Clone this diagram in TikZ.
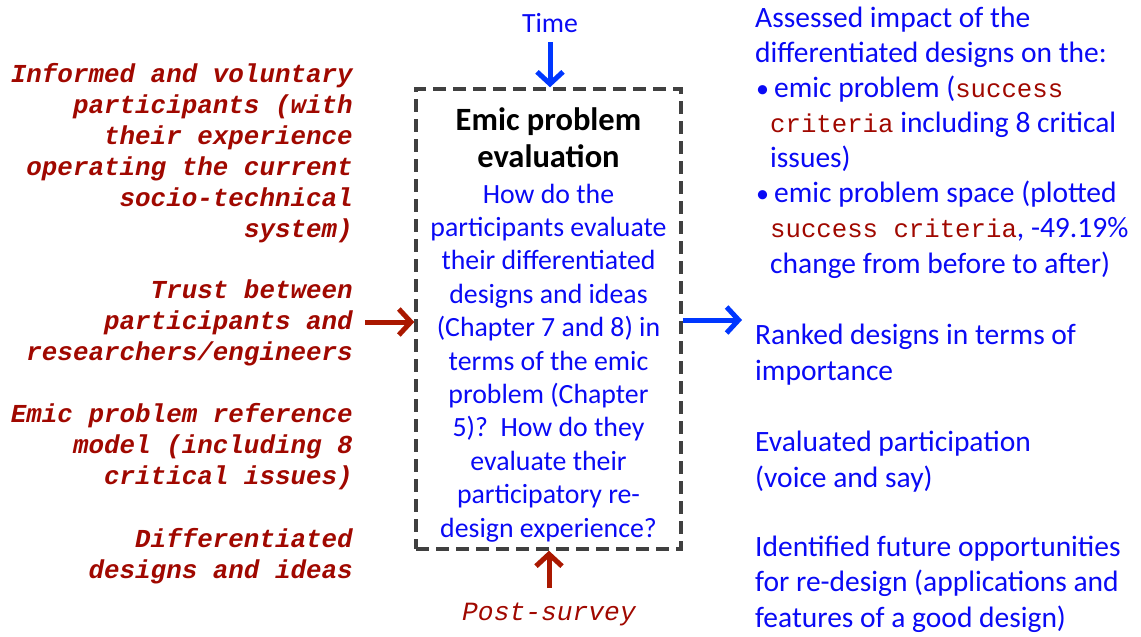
\documentclass[tikz,border=0pt]{standalone}
\usepackage{fontspec}
\setmainfont{Carlito}
\newfontfamily\cmono{Liberation Mono}
\usetikzlibrary{arrows.meta}
\definecolor{txtred}{RGB}{160,8,0}
\definecolor{arrred}{RGB}{170,24,0}
\definecolor{txtblue}{RGB}{10,10,245}
\definecolor{arrblue}{RGB}{0,55,255}
\definecolor{boxgray}{RGB}{64,64,64}
\newcommand{\crit}[1]{{\cmono\fontsize{25.7}{35}\selectfont\color{txtred}#1}}
\newcommand{\bul}{\hspace*{1pt}{\fontsize{26}{35}\selectfont •}\hspace*{5pt}}
\tikzset{
  lefttext/.style={font=\cmono\bfseries\itshape\fontsize{25.9}{31}\selectfont, text=txtred, align=right, inner sep=0pt, anchor=base east},
  righttext/.style={font=\fontsize{29.5}{35.1}\selectfont, text=txtblue, align=left, inner sep=0pt, anchor=base west},
  boxtext/.style={font=\fontsize{27.8}{33.4}\selectfont, text=txtblue, align=center, inner sep=0pt, anchor=base},
  redarrow/.style={draw=arrred, line width=5pt, -{Straight Barb[length=12pt,width=26pt]}},
  bluearrow/.style={draw=arrblue, line width=5pt, -{Straight Barb[length=12pt,width=26pt]}},
}
\begin{document}
\begin{tikzpicture}[x=1pt,y=-1pt]
\useasboundingbox (0,0) rectangle (1141,637);
% central box
\node[draw=boxgray, line width=3.5pt, dash pattern=on 13pt off 7pt, minimum width=265pt, minimum height=460pt, inner sep=0pt] (box) at (548.5,319) {};
\node[font=\bfseries\fontsize{32.5}{37}\selectfont, align=center, inner sep=0pt, anchor=base] (title) at (548.5,167) {Emic problem\\evaluation};
\node[boxtext] (question) at (548.5,537) {How do the\\participants evaluate\\their differentiated\\designs and ideas\\(Chapter 7 and 8) in\\terms of the emic\\problem (Chapter\\5)?\ \ How do they\\evaluate their\\participatory re-\\design experience?};
% top and bottom
\node[boxtext] (time) at (550,32) {Time};
\node[font=\cmono\itshape\fontsize{26.3}{31}\selectfont, text=txtred, inner sep=0pt, anchor=base] (post) at (549,620) {Post-survey};
\draw[bluearrow] (time.south |- 0,42) -- (time.south |- box.north);
\draw[redarrow] (post.north |- 0,588) -- (post.north |- box.south);
% left inputs
\node[lefttext] (in1) at (353,237) {Informed and voluntary\\participants (with\\their experience\\operating the current\\socio-technical\\system)};
\node[lefttext] (in2) at (353,360) {Trust between\\participants and\\researchers/engineers};
\node[lefttext] (in3) at (353,484) {Emic problem reference\\model (including 8\\critical issues)};
\node[lefttext] (in4) at (353,578) {Differentiated\\designs and ideas};
\coordinate (inarrow) at (365,322);
\draw[redarrow] (inarrow) -- (inarrow -| box.west);
% right outputs
\coordinate (outarrow) at (742,320);
\draw[bluearrow] (outarrow -| box.east) -- (outarrow);
\node[righttext] (out1) at (755,273) {Assessed impact of the\\differentiated designs on the:\\\bul emic problem (\crit{success}\\\hspace*{15pt}\crit{criteria} including 8 critical\\\hspace*{15pt}issues)\\\bul emic problem space (plotted\\\hspace*{15pt}\crit{success criteria}, -49.19\%\\\hspace*{15pt}change from before to after)};
\node[righttext] (out2) at (755,380) {Ranked designs in terms of\\importance};
\node[righttext] (out3) at (755,487) {Evaluated participation\\(voice and say)};
\node[righttext] (out4) at (755,627) {Identified future opportunities\\for re-design (applications and\\features of a good design)};
\end{tikzpicture}
\end{document}
